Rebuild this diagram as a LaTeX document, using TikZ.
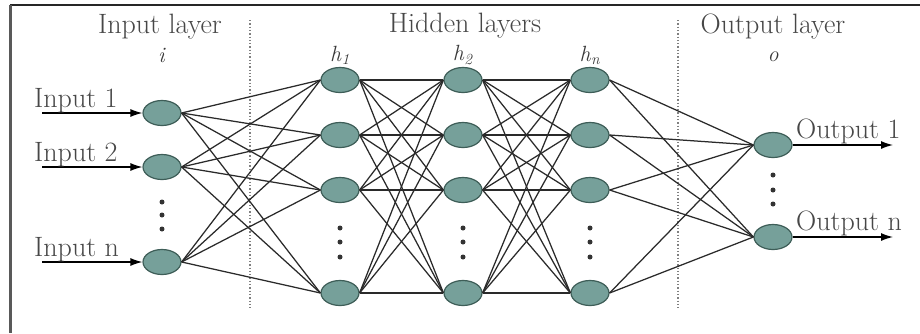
\documentclass[tikz,border=0pt]{standalone}
\usetikzlibrary{arrows.meta,shapes.geometric}
\definecolor{nodefill}{HTML}{76A09A}
\definecolor{nodeline}{HTML}{3E5E58}
\definecolor{txt}{HTML}{474747}
\definecolor{wire}{HTML}{2A2A2A}
\newcommand{\hsub}[2]{\textit{#1}\textsubscript{\textit{#2}}}
\begin{document}
\begin{tikzpicture}[x=1pt,y=-1pt,
  neuron/.style={ellipse,draw=nodeline,line width=1.2pt,fill=nodefill,minimum width=38pt,minimum height=25pt,inner sep=0pt},
  lbl/.style={text=txt,font=\fontsize{28}{32}\selectfont,inner sep=0pt},
  mlbl/.style={text=txt!80!black,font=\fontsize{22}{26}\selectfont,inner sep=0pt},
  conn/.style={draw=wire,line width=1.25pt},
  io/.style={draw=black,line width=1.3pt,-{Latex[length=12pt,width=8pt]}},
  sep/.style={draw=gray,line width=1.3pt,dotted},
  dot/.style={circle,fill=black!80,inner sep=0pt,minimum size=5pt}]
\useasboundingbox (0,0) rectangle (920,333);
\fill[white] (0,0) rectangle (920,333);
% frame
\draw[line width=2pt,black!85] (10,5) -- (920,5);
\draw[line width=3pt,black!65] (10,5) -- (10,333);
% separators
\draw[sep] (250,20) -- (250,310);
\draw[sep] (678,20) -- (678,310);
% titles
\node[lbl] (tin) at (160,27) {Input layer};
\node[mlbl] (ti) at (162,55) {\textit{i}};
\node[lbl] (thid) at (465,26) {Hidden layers};
\node[mlbl] (th1) at (340,55) {\hsub{h}{1}};
\node[mlbl] (th2) at (463,55) {\hsub{h}{2}};
\node[mlbl] (thn) at (590,55) {\hsub{h}{n}};
\node[lbl] (tout) at (773,27) {Output layer};
\node[mlbl] (to) at (773,57) {\textit{o}};
% input nodes
\node[neuron] (i1) at (162,113) {};
\node[neuron] (i2) at (162,167) {};
\node[neuron] (i3) at (162,262) {};
% hidden nodes
\foreach \c/\x in {a/340,b/463,c/590}{
  \node[neuron] (\c1) at (\x,80) {};
  \node[neuron] (\c2) at (\x,135) {};
  \node[neuron] (\c3) at (\x,190) {};
  \node[neuron] (\c4) at (\x,293) {};
  \node[dot] (\c d1) at (\x,228) {};
  \node[dot] (\c d2) at (\x,242) {};
  \node[dot] (\c d3) at (\x,257) {};
}
% output nodes
\node[neuron] (o1) at (773,145) {};
\node[neuron] (o2) at (773,237) {};
% dots
\node[dot] (id1) at (162,202) {};
\node[dot] (id2) at (162,215) {};
\node[dot] (id3) at (162,229) {};
\node[dot] (od1) at (773,175) {};
\node[dot] (od2) at (773,190) {};
\node[dot] (od3) at (773,204) {};
% connections
\foreach \s in {i1,i2,i3}{\foreach \t in {a1,a2,a3,a4}{\draw[conn] (\s.east) -- (\t.west);}}
\foreach \s in {a1,a2,a3,a4}{\foreach \t in {b1,b2,b3,b4}{\draw[conn] (\s.east) -- (\t.west);}}
\foreach \s in {b1,b2,b3,b4}{\foreach \t in {c1,c2,c3,c4}{\draw[conn] (\s.east) -- (\t.west);}}
\foreach \s in {c1,c2,c3,c4}{\foreach \t in {o1,o2}{\draw[conn] (\s.east) -- (\t.west);}}
% input arrows
\coordinate (s1) at (42,113);
\coordinate (s2) at (42,167);
\coordinate (s3) at (42,262);
\draw[io] (s1) -- (i1.west);
\draw[io] (s2) -- (i2.west);
\draw[io] (s3) -- (i3.west);
\node[lbl,anchor=base west] (l1) at (34,107) {Input 1};
\node[lbl,anchor=base west] (l2) at (34,161) {Input 2};
\node[lbl,anchor=base west] (l3) at (34,256) {Input n};
% output arrows
\coordinate (e1) at (893,145);
\coordinate (e2) at (893,237);
\draw[io] (o1.east) -- (e1);
\draw[io] (o2.east) -- (e2);
\node[lbl,anchor=base west] (m1) at (796,138) {Output 1};
\node[lbl,anchor=base west] (m2) at (796,230) {Output n};
\end{tikzpicture}
\end{document}
